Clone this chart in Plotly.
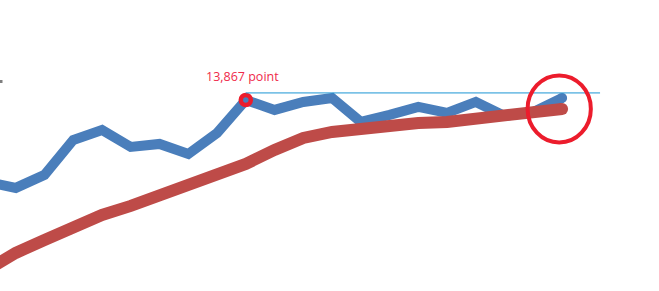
import plotly.graph_objects as go

years = list(range(1995, 2016))
series_a = [10590, 10350, 10870, 12270, 12670, 11990, 12110, 11710, 12550, 13867,
            13470, 13790, 13950, 12990, 13270, 13590, 13350, 13790, 13230, 13390, 13950]
series_b = [7070, 7750, 8270, 8790, 9270, 9630, 10030, 10430, 10870, 11310,
            11870, 12350, 12590, 12750, 12870, 12950, 12990, 13110, 13230, 13350, 13510]
peak_label = "13,867 point"
peak_index = 9

fig = go.Figure()
fig.add_trace(go.Scatter(x=years, y=series_a, mode="lines",
                         line=dict(color="#4a7ebb", width=10), hoverinfo="skip"))
fig.add_trace(go.Scatter(x=[years[-1]], y=[series_a[-1]], mode="markers",
                         marker=dict(size=10, color="#4a7ebb", line=dict(width=0)),
                         hoverinfo="skip"))
fig.add_trace(go.Scatter(x=years, y=series_b, mode="lines",
                         line=dict(color="#be4b48", width=12), hoverinfo="skip"))
# rounded end cap
fig.add_trace(go.Scatter(x=[years[-1]], y=[series_b[-1]], mode="markers",
                         marker=dict(size=12, color="#be4b48", line=dict(width=0)),
                         hoverinfo="skip"))
fig.add_trace(go.Scatter(x=[years[peak_index]], y=[series_a[peak_index]], mode="markers",
                         marker=dict(size=10, color="#4a7ebb",
                                     line=dict(color="#ec1c2c", width=4.5)),
                         hoverinfo="skip"))

# reference line from peak to right
fig.add_shape(type="line", xref="x", yref="y",
              x0=years[peak_index], x1=2016.32, y0=14150, y1=14150,
              line=dict(color="#1a96d4", width=1))
# highlight circle at the end
fig.add_shape(type="circle", xref="x", yref="y",
              x0=2013.8, x1=2016.0, y0=12170, y1=14850,
              line=dict(color="#ec1c2c", width=4))
# small gray mark at top-left edge
fig.add_shape(type="line", xref="paper", yref="paper",
              x0=0, x1=2.5 / 659, y0=1 - 81.5 / 291, y1=1 - 81.5 / 291,
              line=dict(color="#7f7f7f", width=3))

fig.add_annotation(x=years[peak_index], y=series_a[peak_index], text=peak_label,
                   showarrow=False, yshift=24, xshift=-3,
                   font=dict(family="Open Sans", size=12.5, color="#ef2a4a"))

fig.update_layout(
    width=659, height=291, margin=dict(l=0, r=0, t=0, b=0),
    paper_bgcolor="white", plot_bgcolor="white", showlegend=False,
    xaxis=dict(range=[1995.452, 2018.37], visible=False, fixedrange=True),
    yaxis=dict(range=[6227, 17867], visible=False, fixedrange=True),
)
fig.write_html("out.html")
